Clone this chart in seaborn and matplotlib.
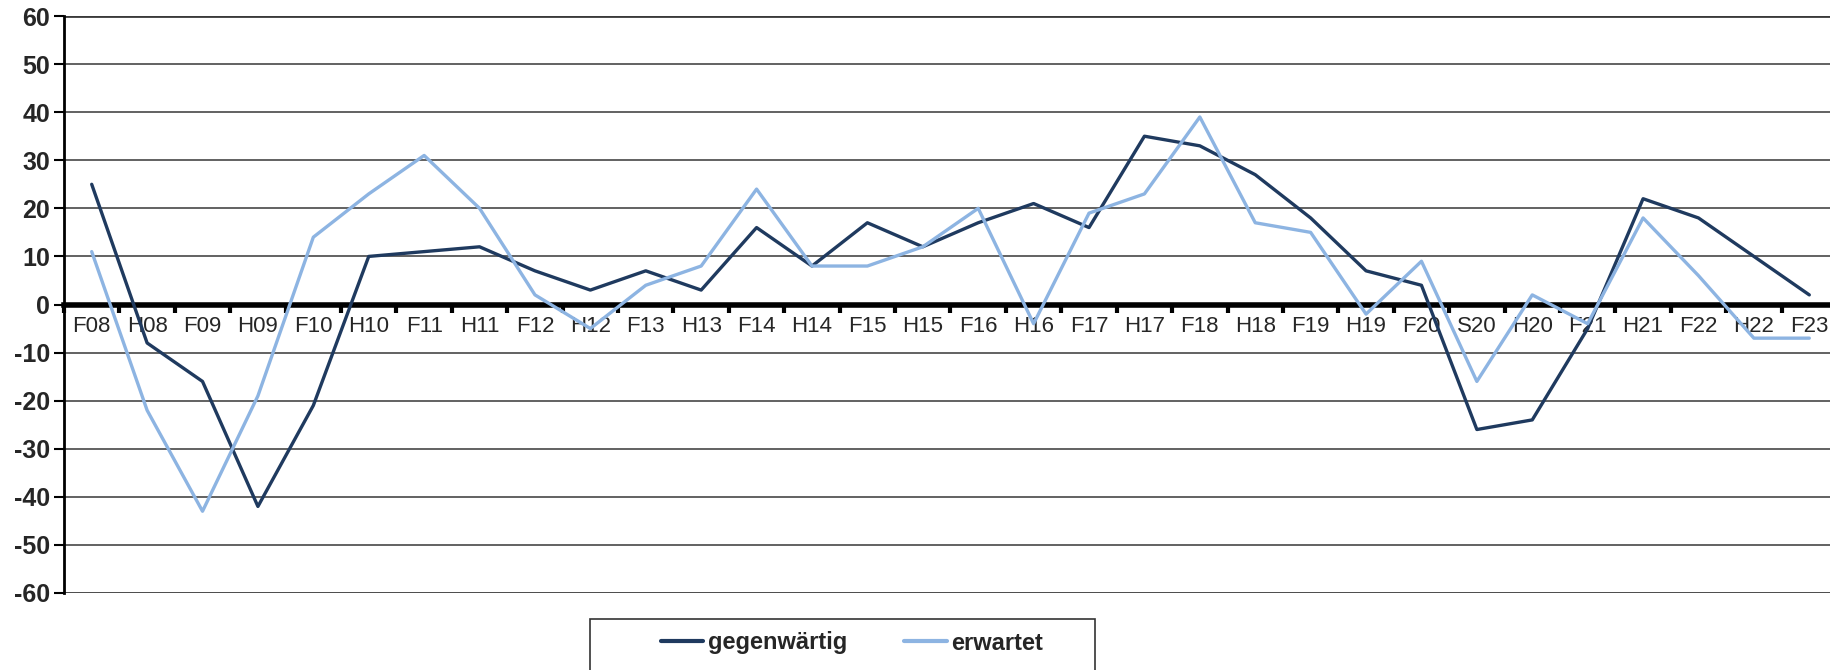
import matplotlib
matplotlib.use("Agg")
import matplotlib.pyplot as plt
import seaborn as sns
import pandas as pd
from matplotlib.patches import Rectangle
from matplotlib.lines import Line2D

periods = ["F08", "H08", "F09", "H09", "F10", "H10", "F11", "H11", "F12", "H12",
           "F13", "H13", "F14", "H14", "F15", "H15", "F16", "H16", "F17", "H17",
           "F18", "H18", "F19", "H19", "F20", "S20", "H20", "F21", "H21", "F22",
           "H22", "F23"]
gegenwaertig = [25, -8, -16, -42, -21, 10, 11, 12, 7, 3,
                7, 3, 16, 8, 17, 12, 17, 21, 16, 35,
                33, 27, 18, 7, 4, -26, -24, -5, 22, 18,
                10, 2]
erwartet = [11, -22, -43, -19, 14, 23, 31, 20, 2, -5,
            4, 8, 24, 8, 8, 12, 20, -4, 19, 23,
            39, 17, 15, -2, 9, -16, 2, -4, 18, 6,
            -7, -7]
series_names = ["gegenwärtig", "erwartet"]
y_ticks = list(range(-60, 61, 10))

dark = "#1F3A5F"
light = "#8DB4E2"

sns.set_theme(style="white")
plt.rcParams["font.family"] = ["Liberation Sans", "DejaVu Sans"]

df = pd.DataFrame({
    "period": periods * 2,
    "pos": list(range(len(periods))) * 2,
    "value": gegenwaertig + erwartet,
    "series": [series_names[0]] * len(periods) + [series_names[1]] * len(periods),
})

fig = plt.figure(figsize=(18.31, 6.70), dpi=100)
ax = fig.add_axes([64 / 1831, 1 - 593 / 670, 1773 / 1831, (593 - 16) / 670])

# gridlines
for y in y_ticks:
    if y == 0:
        continue
    ax.axhline(y, color="#3a3a3a" if abs(y) == 60 else "#555555",
               lw=2.0 if abs(y) == 60 else 1.3, zorder=1)

sns.lineplot(data=df, x="pos", y="value", hue="series", hue_order=series_names,
             palette=[dark, light], linewidth=2.4, sort=False, legend=False,
             ax=ax, zorder=3)

ax.set_xlim(-0.5, len(periods) - 0.5)
ax.set_ylim(-60, 60)
ax.set_xlabel("")
ax.set_ylabel("")

for s in ["top", "right"]:
    ax.spines[s].set_visible(False)
ax.spines["left"].set_color("black")
ax.spines["left"].set_linewidth(2.0)
ax.spines["bottom"].set_position(("data", 0))
ax.spines["bottom"].set_color("black")
ax.spines["bottom"].set_linewidth(4.0)
ax.spines["bottom"].set_zorder(2)

ax.set_yticks(y_ticks)
ax.set_yticklabels([str(v) for v in y_ticks], fontsize=18, fontweight="bold")
ax.tick_params(axis="y", direction="out", length=7, width=1.5, color="black", pad=3, left=True)

ax.set_xticks(range(len(periods)))
ax.set_xticklabels(periods, fontsize=16)
ax.set_xticks([i - 0.5 for i in range(len(periods) + 1)], minor=True)
ax.tick_params(axis="x", which="major", length=0, pad=8)
ax.tick_params(axis="x", which="minor", direction="out", length=6, width=3, color="black", bottom=True)

# legend box (extends below figure edge)
rect = Rectangle((590 / 1831, 1 - 700 / 670), (1095 - 590) / 1831, (700 - 619) / 670,
                 transform=fig.transFigure, facecolor="white", edgecolor="#333333",
                 lw=1.2, zorder=0)
fig.patches.append(rect)
handles = [Line2D([0], [0], color=dark, lw=3), Line2D([0], [0], color=light, lw=3)]
leg = fig.legend(handles, series_names, loc="center left", ncol=2,
                 bbox_to_anchor=(661 / 1831, 1 - 643 / 670), frameon=False,
                 prop={"size": 17, "weight": "bold"}, handlelength=1.8,
                 handletextpad=0.2, columnspacing=2.4, borderpad=0, borderaxespad=0)

fig.savefig("out.png", dpi=100)
